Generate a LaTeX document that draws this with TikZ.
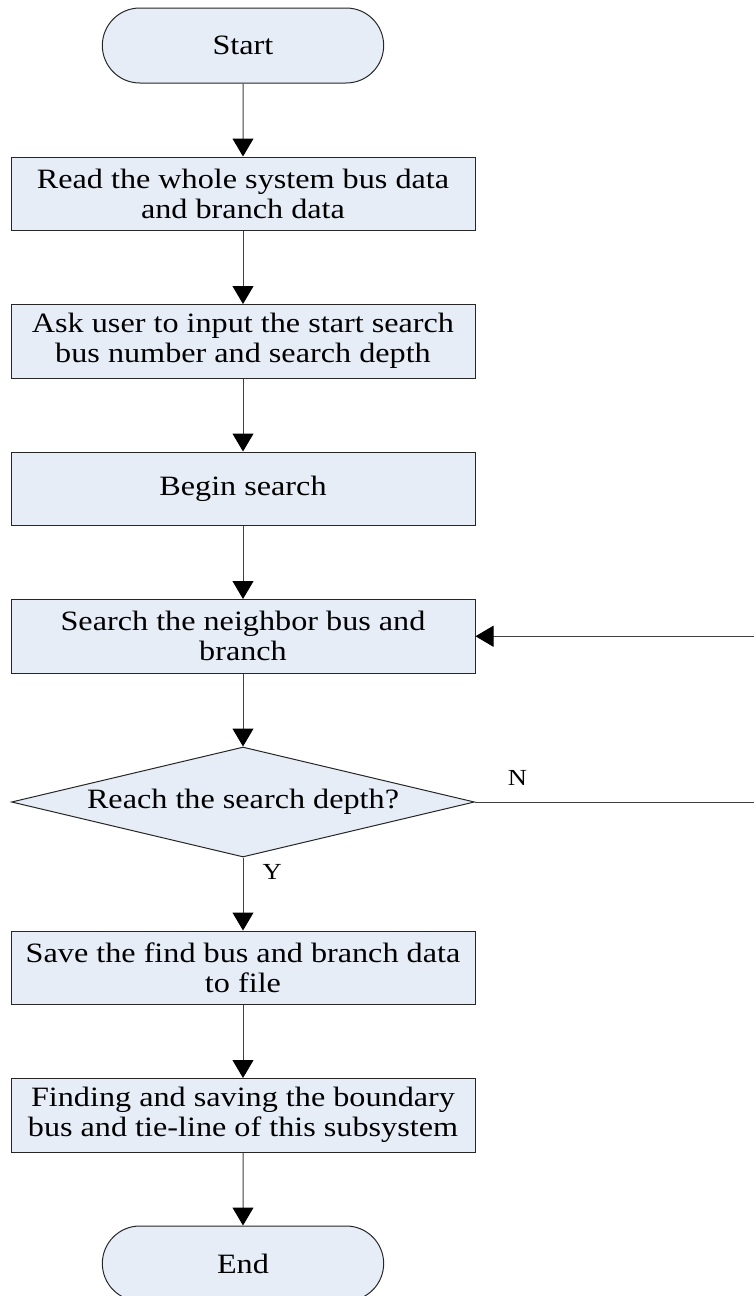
\documentclass[tikz,border=0pt]{standalone}
\usepackage{fontspec}
\setmainfont{Liberation Serif}[FakeStretch=1.15]
\usepackage{tikz}
\usetikzlibrary{arrows,arrows.meta}
\usetikzlibrary{positioning}
\usetikzlibrary{shapes.misc,shapes.geometric}
\usepackage{xcolor}
\definecolor{boxfill}{RGB}{230,237,247}

\begin{document}
\begin{tikzpicture}[->,>={Triangle[width=21pt,length=18pt,color=black]},
  node distance=73pt,
  every node/.style={font=\fontsize{28}{30}\selectfont},
  terminal/.style={rounded rectangle, draw=black!85, fill=boxfill, line width=1pt,
    minimum width=288pt, minimum height=75pt},
  process/.style={rectangle, draw=black!85, fill=boxfill, line width=1pt,
    minimum width=464pt, minimum height=73.5pt, align=center, inner sep=2pt},
  decision/.style={diamond, draw=black!85, fill=boxfill, line width=1pt,
    minimum width=463pt, minimum height=110pt, shape aspect=4.2, inner sep=0pt},
  answer/.style={font=\fontsize{23}{26}\selectfont, inner sep=2pt}]

 % fix the page to the size of the picture
 \useasboundingbox (0,0) rectangle (754pt,-1296pt);

 % the chain of steps, top to bottom
 \node[terminal] (Start) at (243pt,-45.5pt) {Start};
 \node[process, below=of Start] (ReadData)
  {Read the whole system bus data\\and branch data};
 \node[process, below=of ReadData] (AskUser)
  {Ask user to input the start search\\bus number and search depth};
 \node[process, below=of AskUser] (BeginSearch) {Begin search};
 \node[process, below=of BeginSearch] (SearchNeighbor)
  {Search the neighbor bus and\\branch};
 \node[decision, below=of SearchNeighbor] (ReachDepth) {Reach the search depth?};
 \node[process, below=of ReachDepth] (SaveData)
  {Save the find bus and branch data\\to file};
 \node[process, below=of SaveData] (FindBoundary)
  {Finding and saving the boundary\\bus and tie-line of this subsystem};
 \node[terminal, below=of FindBoundary] (End) {End};

 % the loop runs just past the right edge of the page
 \coordinate (LoopRight) at (758pt,0);

 % straight arrows down the chain
 \draw[black!75, line width=1pt] (Start) -- (ReadData);
 \draw[black!75, line width=1pt] (ReadData) -- (AskUser);
 \draw[black!75, line width=1pt] (AskUser) -- (BeginSearch);
 \draw[black!75, line width=1pt] (BeginSearch) -- (SearchNeighbor);
 \draw[black!75, line width=1pt] (SearchNeighbor) -- (ReachDepth);
 \draw[black!75, line width=1pt] (ReachDepth) -- node[answer, pos=0.2, right=17pt, black]{Y} (SaveData);
 \draw[black!75, line width=1pt] (SaveData) -- (FindBoundary);
 \draw[black!75, line width=1pt] (FindBoundary) -- (End);

 % answer N goes back to the search step
 \draw[black!75, line width=1pt] (ReachDepth.east)
  -- node[answer, pos=0.15, above=14pt, black]{N} (ReachDepth.east -| LoopRight)
  |- (SearchNeighbor.east);

\end{tikzpicture}
\end{document}
